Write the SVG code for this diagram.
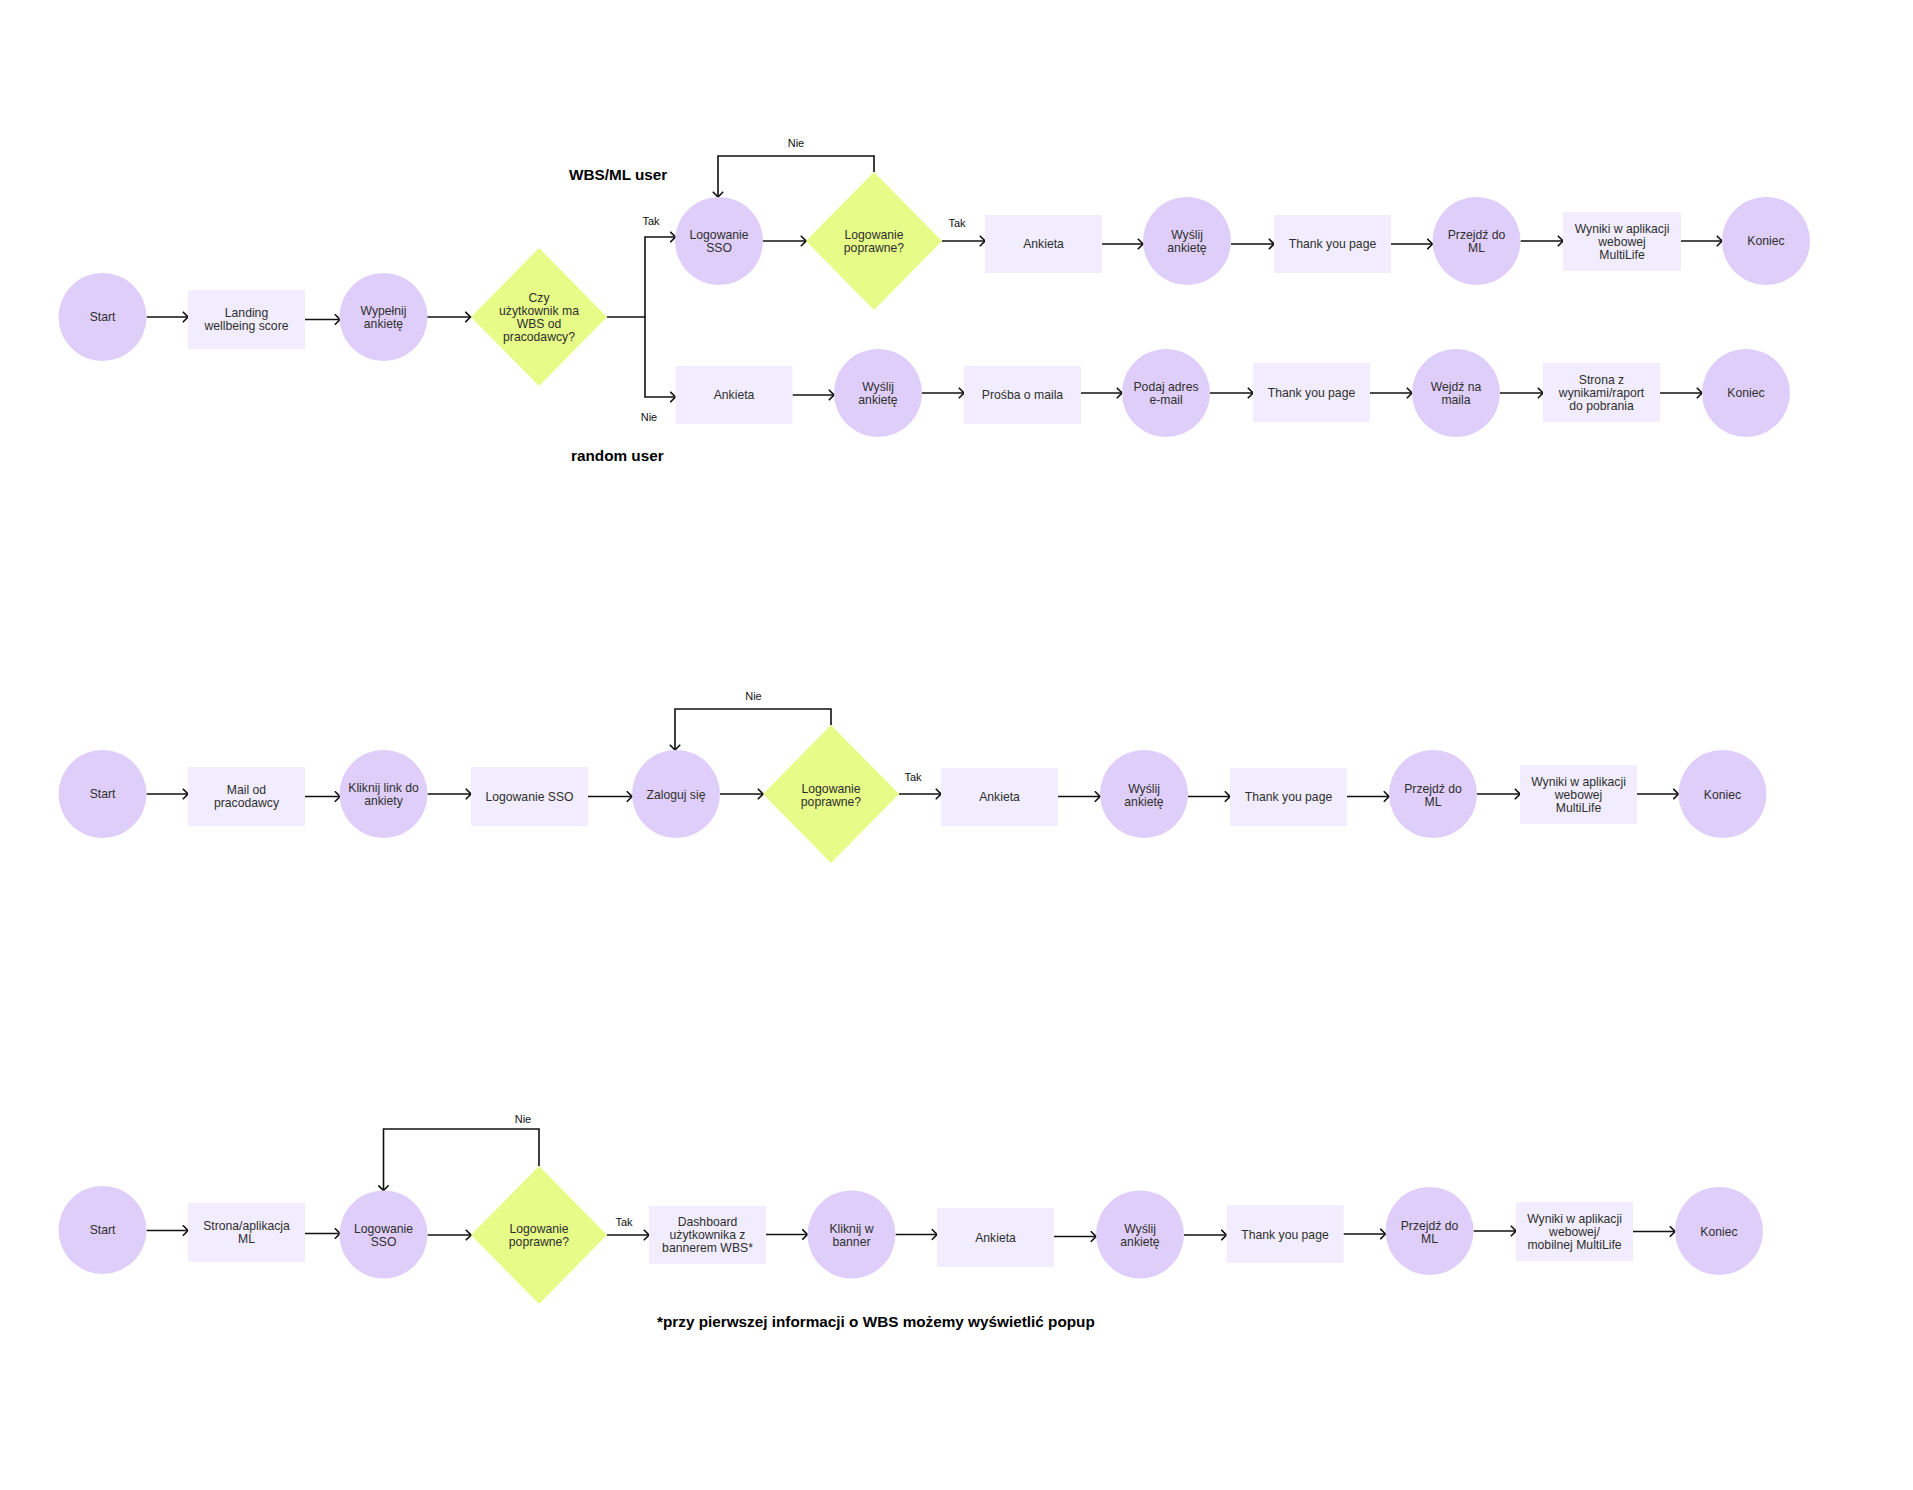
<svg xmlns="http://www.w3.org/2000/svg" width="1913" height="1490" viewBox="0 0 1913 1490">
<style>
.c{fill:#E0CEFA}
.r{fill:#F2EDFE}
.d{fill:#E6FB88}
.t{font-family:"Liberation Sans",Arial,sans-serif;font-size:12.2px;fill:#2e2e2e;text-anchor:middle;dominant-baseline:central}
.l{font-family:"Liberation Sans",Arial,sans-serif;font-size:11px;fill:#111;text-anchor:middle;dominant-baseline:central}
.h{font-family:"Liberation Sans",Arial,sans-serif;font-size:15.3px;font-weight:bold;fill:#000;dominant-baseline:central}
.e{fill:none;stroke:#111;stroke-width:1.6}
</style>
<defs>
<marker id="a" viewBox="0 0 7 12" refX="6" refY="6" markerWidth="7" markerHeight="12" orient="auto" markerUnits="userSpaceOnUse">
<path d="M0.8,0.8 L6,6 L0.8,11.2" fill="none" stroke="#111" stroke-width="1.6"/>
</marker>
</defs>
<rect width="1913" height="1490" fill="#fff"/>

<g id="connectors">
<path class="e" marker-end="url(#a)" d="M146.5,317 H188"/>
<path class="e" marker-end="url(#a)" d="M305,319.5 H340"/>
<path class="e" marker-end="url(#a)" d="M427,317 H470.5"/>
<path class="e" marker-end="url(#a)" d="M607,317 H645 V237 H675.5"/>
<path class="e" marker-end="url(#a)" d="M645,317 V397 H675.5"/>
<path class="e" marker-end="url(#a)" d="M763,241 H806"/>
<path class="e" marker-end="url(#a)" d="M874,172 V156 H718 V197"/>
<path class="e" marker-end="url(#a)" d="M942,241 H985"/>
<path class="e" marker-end="url(#a)" d="M1102,244 H1143"/>
<path class="e" marker-end="url(#a)" d="M1231,244 H1274"/>
<path class="e" marker-end="url(#a)" d="M1391,244 H1432.5"/>
<path class="e" marker-end="url(#a)" d="M1520.5,241 H1563"/>
<path class="e" marker-end="url(#a)" d="M1681,241 H1722"/>

<path class="e" marker-end="url(#a)" d="M792.5,395 H834"/>
<path class="e" marker-end="url(#a)" d="M922,393 H964"/>
<path class="e" marker-end="url(#a)" d="M1081,393 H1122"/>
<path class="e" marker-end="url(#a)" d="M1210,393 H1253"/>
<path class="e" marker-end="url(#a)" d="M1370,393 H1412"/>
<path class="e" marker-end="url(#a)" d="M1500,393 H1543"/>
<path class="e" marker-end="url(#a)" d="M1660,393 H1702"/>

<path class="e" marker-end="url(#a)" d="M146.5,794 H188"/>
<path class="e" marker-end="url(#a)" d="M305,796.5 H340"/>
<path class="e" marker-end="url(#a)" d="M427.5,794 H471"/>
<path class="e" marker-end="url(#a)" d="M588,796.5 H632"/>
<path class="e" marker-end="url(#a)" d="M831,725 V709 H675 V750"/>
<path class="e" marker-end="url(#a)" d="M720,794 H763"/>
<path class="e" marker-end="url(#a)" d="M899,794 H941"/>
<path class="e" marker-end="url(#a)" d="M1058,796.5 H1100"/>
<path class="e" marker-end="url(#a)" d="M1188,796.5 H1230"/>
<path class="e" marker-end="url(#a)" d="M1347,796.5 H1389"/>
<path class="e" marker-end="url(#a)" d="M1477,794 H1520"/>
<path class="e" marker-end="url(#a)" d="M1637,794 H1678.5"/>

<path class="e" marker-end="url(#a)" d="M146.5,1230.5 H188"/>
<path class="e" marker-end="url(#a)" d="M305,1233.5 H340"/>
<path class="e" marker-end="url(#a)" d="M427.5,1235 H471"/>
<path class="e" marker-end="url(#a)" d="M539,1166 V1129 H383.5 V1190.5"/>
<path class="e" marker-end="url(#a)" d="M607,1235 H649"/>
<path class="e" marker-end="url(#a)" d="M766,1234.5 H807.5"/>
<path class="e" marker-end="url(#a)" d="M895.5,1234.5 H937"/>
<path class="e" marker-end="url(#a)" d="M1054,1236.5 H1096"/>
<path class="e" marker-end="url(#a)" d="M1184,1235 H1226.5"/>
<path class="e" marker-end="url(#a)" d="M1343.5,1234 H1385.5"/>
<path class="e" marker-end="url(#a)" d="M1473.5,1231 H1516"/>
<path class="e" marker-end="url(#a)" d="M1633,1231.5 H1675"/>

<text class="l" x="651" y="221">Tak</text>
<text class="l" x="649" y="417">Nie</text>
<text class="l" x="796" y="143">Nie</text>
<text class="l" x="957" y="223">Tak</text>
<text class="l" x="753.5" y="696">Nie</text>
<text class="l" x="913" y="777">Tak</text>
<text class="l" x="523" y="1119">Nie</text>
<text class="l" x="624" y="1222">Tak</text>
</g>

<text class="h" x="569" y="174">WBS/ML user</text>
<text class="h" x="571" y="455">random user</text>
<text class="h" x="657" y="1321">*przy pierwszej informacji o WBS możemy wyświetlić popup</text>

<!-- Row 1 -->
<g id="n1"><circle class="c" cx="102.5" cy="317" r="44"/><text class="t" x="102.5" y="317">Start</text></g>
<g id="n2"><rect class="r" x="188" y="290" width="117" height="59"/><text class="t" x="246.5" y="313">Landing</text><text class="t" x="246.5" y="326">wellbeing score</text></g>
<g id="n3"><circle class="c" cx="383.5" cy="317" r="44"/><text class="t" x="383.5" y="310.5">Wypełnij</text><text class="t" x="383.5" y="323.5">ankietę</text></g>
<g id="n4"><path class="d" d="M539,248 L607,317 L539,386 L471,317 Z"/><text class="t" x="539" y="297.5">Czy</text><text class="t" x="539" y="310.7">użytkownik ma</text><text class="t" x="539" y="323.9">WBS od</text><text class="t" x="539" y="337.1">pracodawcy?</text></g>
<g id="n5"><circle class="c" cx="719" cy="241" r="44"/><text class="t" x="719" y="234.5">Logowanie</text><text class="t" x="719" y="247.5">SSO</text></g>
<g id="n6"><path class="d" d="M874,172 L942,241 L874,310 L806,241 Z"/><text class="t" x="874" y="234.5">Logowanie</text><text class="t" x="874" y="247.5">poprawne?</text></g>
<g id="n7"><rect class="r" x="985" y="215" width="117" height="58"/><text class="t" x="1043.5" y="244">Ankieta</text></g>
<g id="n8"><circle class="c" cx="1187" cy="241" r="44"/><text class="t" x="1187" y="234.5">Wyślij</text><text class="t" x="1187" y="247.5">ankietę</text></g>
<g id="n9"><rect class="r" x="1274" y="215" width="117" height="58"/><text class="t" x="1332.5" y="244">Thank you page</text></g>
<g id="n10"><circle class="c" cx="1476.5" cy="241" r="44"/><text class="t" x="1476.5" y="234.5">Przejdź do</text><text class="t" x="1476.5" y="247.5">ML</text></g>
<g id="n11"><rect class="r" x="1563" y="212" width="118" height="59"/><text class="t" x="1622" y="229">Wyniki w aplikacji</text><text class="t" x="1622" y="242">webowej</text><text class="t" x="1622" y="255">MultiLife</text></g>
<g id="n12"><circle class="c" cx="1766" cy="241" r="44"/><text class="t" x="1766" y="241">Koniec</text></g>

<!-- Row 1b -->
<g id="n13"><rect class="r" x="675.5" y="366" width="117" height="58"/><text class="t" x="734" y="395">Ankieta</text></g>
<g id="n14"><circle class="c" cx="878" cy="393" r="44"/><text class="t" x="878" y="386.5">Wyślij</text><text class="t" x="878" y="399.5">ankietę</text></g>
<g id="n15"><rect class="r" x="964" y="366" width="117" height="58"/><text class="t" x="1022.5" y="395">Prośba o maila</text></g>
<g id="n16"><circle class="c" cx="1166" cy="393" r="44"/><text class="t" x="1166" y="386.5">Podaj adres</text><text class="t" x="1166" y="399.5">e-mail</text></g>
<g id="n17"><rect class="r" x="1253" y="363" width="117" height="59"/><text class="t" x="1311.5" y="393">Thank you page</text></g>
<g id="n18"><circle class="c" cx="1456" cy="393" r="44"/><text class="t" x="1456" y="386.5">Wejdź na</text><text class="t" x="1456" y="399.5">maila</text></g>
<g id="n19"><rect class="r" x="1543" y="363" width="117" height="59"/><text class="t" x="1601.5" y="380">Strona z</text><text class="t" x="1601.5" y="393">wynikami/raport</text><text class="t" x="1601.5" y="406">do pobrania</text></g>
<g id="n20"><circle class="c" cx="1746" cy="393" r="44"/><text class="t" x="1746" y="393">Koniec</text></g>

<!-- Row 2 -->
<g id="n21"><circle class="c" cx="102.5" cy="794" r="44"/><text class="t" x="102.5" y="794">Start</text></g>
<g id="n22"><rect class="r" x="188" y="767" width="117" height="59"/><text class="t" x="246.5" y="790">Mail od</text><text class="t" x="246.5" y="803">pracodawcy</text></g>
<g id="n23"><circle class="c" cx="383.5" cy="794" r="44"/><text class="t" x="383.5" y="788">Kliknij link do</text><text class="t" x="383.5" y="801">ankiety</text></g>
<g id="n24"><rect class="r" x="471" y="767" width="117" height="59"/><text class="t" x="529.5" y="797">Logowanie SSO</text></g>
<g id="n25"><circle class="c" cx="676" cy="794" r="44"/><text class="t" x="676" y="795">Zaloguj się</text></g>
<g id="n26"><path class="d" d="M831,725 L899,794 L831,863 L763,794 Z"/><text class="t" x="831" y="789">Logowanie</text><text class="t" x="831" y="802">poprawne?</text></g>
<g id="n27"><rect class="r" x="941" y="768" width="117" height="58"/><text class="t" x="999.5" y="797">Ankieta</text></g>
<g id="n28"><circle class="c" cx="1144" cy="794" r="44"/><text class="t" x="1144" y="789">Wyślij</text><text class="t" x="1144" y="802">ankietę</text></g>
<g id="n29"><rect class="r" x="1230" y="768" width="117" height="58"/><text class="t" x="1288.5" y="797">Thank you page</text></g>
<g id="n30"><circle class="c" cx="1433" cy="794" r="44"/><text class="t" x="1433" y="789">Przejdź do</text><text class="t" x="1433" y="802">ML</text></g>
<g id="n31"><rect class="r" x="1520" y="765" width="117" height="59"/><text class="t" x="1578.5" y="782">Wyniki w aplikacji</text><text class="t" x="1578.5" y="795">webowej</text><text class="t" x="1578.5" y="808">MultiLife</text></g>
<g id="n32"><circle class="c" cx="1722.5" cy="794" r="44"/><text class="t" x="1722.5" y="795">Koniec</text></g>

<!-- Row 3 -->
<g id="n33"><circle class="c" cx="102.5" cy="1230" r="44"/><text class="t" x="102.5" y="1230">Start</text></g>
<g id="n34"><rect class="r" x="188" y="1203" width="117" height="59"/><text class="t" x="246.5" y="1226">Strona/aplikacja</text><text class="t" x="246.5" y="1239">ML</text></g>
<g id="n35"><circle class="c" cx="383.5" cy="1234.5" r="44"/><text class="t" x="383.5" y="1229">Logowanie</text><text class="t" x="383.5" y="1242">SSO</text></g>
<g id="n36"><path class="d" d="M539,1166 L607,1235 L539,1304 L471,1235 Z"/><text class="t" x="539" y="1229">Logowanie</text><text class="t" x="539" y="1242">poprawne?</text></g>
<g id="n37"><rect class="r" x="649" y="1206" width="117" height="58"/><text class="t" x="707.5" y="1222">Dashboard</text><text class="t" x="707.5" y="1235">użytkownika z</text><text class="t" x="707.5" y="1248">bannerem WBS*</text></g>
<g id="n38"><circle class="c" cx="851.5" cy="1234.5" r="44"/><text class="t" x="851.5" y="1229">Kliknij w</text><text class="t" x="851.5" y="1242">banner</text></g>
<g id="n39"><rect class="r" x="937" y="1208" width="117" height="59"/><text class="t" x="995.5" y="1238">Ankieta</text></g>
<g id="n40"><circle class="c" cx="1140" cy="1234.5" r="44"/><text class="t" x="1140" y="1229">Wyślij</text><text class="t" x="1140" y="1242">ankietę</text></g>
<g id="n41"><rect class="r" x="1226.5" y="1205" width="117" height="58"/><text class="t" x="1285" y="1235">Thank you page</text></g>
<g id="n42"><circle class="c" cx="1429.5" cy="1231" r="44"/><text class="t" x="1429.5" y="1226">Przejdź do</text><text class="t" x="1429.5" y="1239">ML</text></g>
<g id="n43"><rect class="r" x="1516" y="1202" width="117" height="59"/><text class="t" x="1574.5" y="1219">Wyniki w aplikacji</text><text class="t" x="1574.5" y="1232">webowej/</text><text class="t" x="1574.5" y="1245">mobilnej MultiLife</text></g>
<g id="n44"><circle class="c" cx="1719" cy="1231" r="44"/><text class="t" x="1719" y="1232">Koniec</text></g>
</svg>
